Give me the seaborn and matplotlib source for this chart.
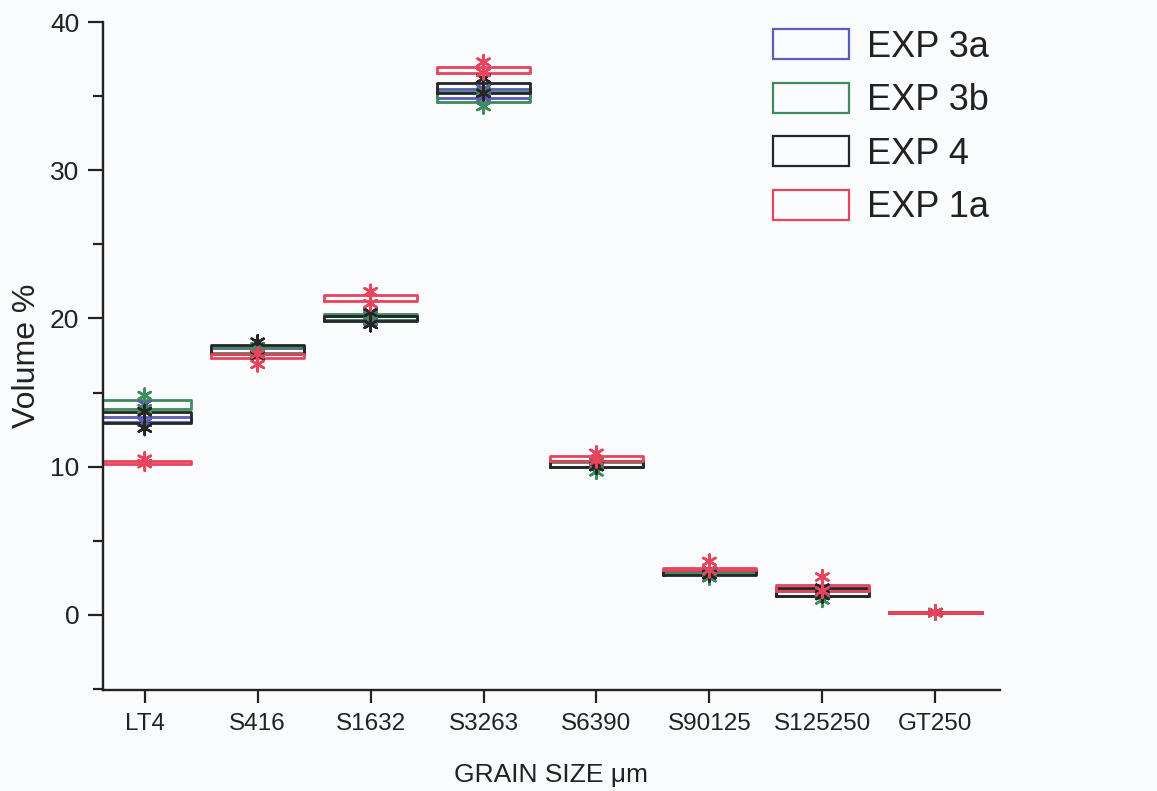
import numpy as np
import pandas as pd
import seaborn as sns
import matplotlib.pyplot as plt
from matplotlib.patches import Patch
from matplotlib.ticker import MultipleLocator

categories = ["LT4", "S416", "S1632", "S3263", "S6390", "S90125", "S125250", "GT250"]
series = ["EXP 3a", "EXP 3b", "EXP 4", "EXP 1a"]
colors = ["#5b5bb8", "#3d8c5c", "#262626", "#e8445e"]

# box bottom / top per category (volume %)
exp3a_q1 = [13.0, 17.6, 19.9, 34.9, 10.0, 2.8, 1.3, 0.1]
exp3a_q3 = [13.35, 18.0, 20.2, 35.5, 10.4, 3.0, 1.7, 0.2]
exp3b_q1 = [13.9, 17.7, 19.9, 34.6, 10.0, 2.8, 1.3, 0.1]
exp3b_q3 = [14.5, 18.1, 20.3, 35.3, 10.3, 3.0, 1.6, 0.2]
exp4_q1 = [12.95, 17.6, 19.8, 35.2, 10.0, 2.7, 1.3, 0.1]
exp4_q3 = [13.7, 18.2, 20.2, 35.9, 10.4, 3.0, 1.8, 0.2]
exp1a_q1 = [10.2, 17.3, 21.2, 36.6, 10.4, 3.0, 1.6, 0.1]
exp1a_q3 = [10.35, 17.6, 21.6, 37.0, 10.7, 3.15, 2.0, 0.2]

# min / max markers (asterisks)
exp3a_min = [13.0, 17.6, 19.8, 34.9, 10.0, 2.8, 1.3, 0.15]
exp3a_max = [14.2, 18.0, 20.2, 35.5, 10.4, 3.0, 1.7, 0.15]
exp3b_min = [13.9, 17.7, 19.9, 34.3, 9.65, 2.5, 1.0, 0.15]
exp3b_max = [14.8, 18.1, 20.3, 35.3, 10.3, 3.0, 1.6, 0.15]
exp4_min = [12.6, 17.5, 19.6, 35.2, 10.0, 2.7, 1.3, 0.15]
exp4_max = [13.7, 18.4, 20.4, 36.2, 10.4, 3.0, 1.8, 0.15]
exp1a_min = [10.2, 16.9, 21.0, 36.6, 10.4, 3.0, 1.6, 0.15]
exp1a_max = [10.5, 17.6, 21.8, 37.3, 10.9, 3.6, 2.55, 0.15]

q1s = [exp3a_q1, exp3b_q1, exp4_q1, exp1a_q1]
q3s = [exp3a_q3, exp3b_q3, exp4_q3, exp1a_q3]
mins = [exp3a_min, exp3b_min, exp4_min, exp1a_min]
maxs = [exp3a_max, exp3b_max, exp4_max, exp1a_max]

box_rows = []
mark_rows = []
for name, lo, hi, mn, mx in zip(series, q1s, q3s, mins, maxs):
    for cat, a, b, c, d in zip(categories, lo, hi, mn, mx):
        # five points whose quartiles are exactly a and b
        for v in [a, a, a, b, b]:
            box_rows.append({"size": cat, "vol": v, "exp": name})
        mark_rows.append({"size": cat, "vol": c, "exp": name})
        mark_rows.append({"size": cat, "vol": d, "exp": name})
box_df = pd.DataFrame(box_rows)
mark_df = pd.DataFrame(mark_rows)

sns.set_theme(style="ticks")
plt.rcParams["font.family"] = ["Liberation Sans", "DejaVu Sans"]
bg = "#fafbfc"
ink = "#222222"

fig, ax = plt.subplots(figsize=(11.57, 7.91), dpi=100)
fig.patch.set_facecolor(bg)
ax.set_facecolor(bg)
fig.subplots_adjust(left=0.089, right=0.864, top=0.972, bottom=0.128)

sns.boxplot(data=box_df, x="size", y="vol", hue="exp", order=categories,
            hue_order=series, palette=colors, dodge=False, fill=False,
            width=0.82, linewidth=2.0, showcaps=False,
            whiskerprops={"linewidth": 0}, medianprops={"linewidth": 0},
            legend=False, ax=ax)

sns.stripplot(data=mark_df, x="size", y="vol", hue="exp", order=categories,
              hue_order=series, palette=colors, jitter=False, dodge=False,
              marker=(6, 2, 0), size=10, linewidth=1.8, legend=False, ax=ax)

ax.set_xlim(-0.37, 7.57)
ax.set_ylim(-5.06, 40)
ax.yaxis.set_major_locator(MultipleLocator(10))
ax.yaxis.set_minor_locator(MultipleLocator(5))
sns.despine(ax=ax)
for sp in ["left", "bottom"]:
    ax.spines[sp].set_linewidth(1.7)
    ax.spines[sp].set_color(ink)
ax.tick_params(axis="y", which="major", length=11, width=1.6, labelsize=19, pad=6, colors=ink)
ax.tick_params(axis="y", which="minor", length=7, width=1.6, colors=ink)
ax.tick_params(axis="x", length=9, width=1.6, labelsize=17.5, pad=8, colors=ink)

ax.set_xlabel("GRAIN SIZE μm", fontsize=19, color=ink, labelpad=20)
ax.set_ylabel("Volume %", fontsize=23, color=ink, labelpad=6)

handles = [Patch(facecolor="none", edgecolor=c, linewidth=1.6, label=s)
           for s, c in zip(series, colors)]
fig.legend(handles=handles, loc="upper left", bbox_to_anchor=(0.668, 0.963),
           frameon=False, fontsize=26, handlelength=2.1, handleheight=0.9,
           labelspacing=0.5, handletextpad=0.5, borderaxespad=0, borderpad=0,
           labelcolor=ink)

fig.savefig("out.png", dpi=100, facecolor=bg)
